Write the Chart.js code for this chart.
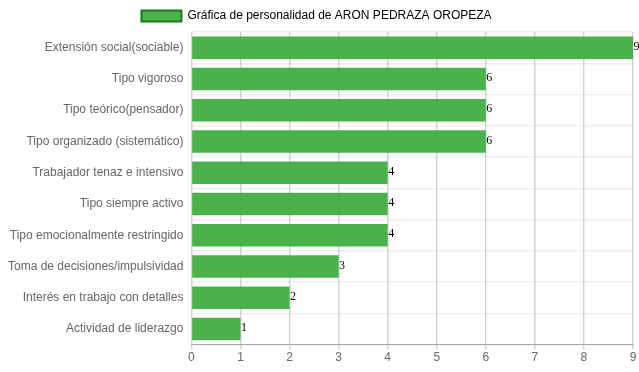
<!DOCTYPE html>
<html>
<head>
<meta charset="utf-8">
<script src="https://cdn.jsdelivr.net/npm/chart.js@4"></script>
<style>
  html, body { margin: 0; padding: 0; background: #fff; }
  #wrap { width: 639px; height: 372px; }
</style>
</head>
<body>
<div id="wrap"><canvas id="personalidad-chart"></canvas></div>
<script>
// datos
const categorias = [
    'Extensión social(sociable)',
    'Tipo vigoroso',
    'Tipo teórico(pensador)',
    'Tipo organizado (sistemático)',
    'Trabajador tenaz e intensivo',
    'Tipo siempre activo',
    'Tipo emocionalmente restringido',
    'Toma de decisiones/impulsividad',
    'Interés en trabajo con detalles',
    'Actividad de liderazgo'
];
const puntajes = [9, 6, 6, 6, 4, 4, 4, 3, 2, 1];
const ticksX = [0, 1, 2, 3, 4, 5, 6, 7, 8, 9];
const tituloSerie = 'Gráfica de personalidad de ARON PEDRAZA OROPEZA';

Chart.defaults.font.family = '"Liberation Sans", Arial, sans-serif';
Chart.defaults.font.size = 12;
Chart.defaults.color = '#666';

// numeros al final de cada barra
const valoresPlugin = {
    id: 'valores',
    afterDatasetsDraw(chart) {
        const ctx = chart.ctx;
        const meta = chart.getDatasetMeta(0);
        ctx.save();
        ctx.font = '12px "Liberation Serif", "Times New Roman", serif';
        ctx.fillStyle = '#000';
        ctx.textAlign = 'left';
        ctx.textBaseline = 'middle';
        meta.data.forEach((bar, i) => {
            ctx.fillText(puntajes[i], bar.x + 0.5, bar.y - 1);
        });
        ctx.restore();
    }
};

const ctx = document.getElementById('personalidad-chart');
new Chart(ctx, {
    type: 'bar',
    data: {
        labels: categorias,
        datasets: [{
            label: tituloSerie,
            data: puntajes,
            backgroundColor: 'rgba(60, 170, 60, 0.92)',
            borderColor: '#1b7a1b',
            borderWidth: 0
        }]
    },
    options: {
        indexAxis: 'y',
        responsive: true,
        maintainAspectRatio: false,
        animation: false,
        layout: { padding: { bottom: 6, right: 6 } },
        scales: {
            x: {
                min: 0,
                max: 9,
                afterBuildTicks: (axis) => { axis.ticks = ticksX.map(v => ({ value: v })); },
                grid: { color: 'rgba(0,0,0,0.17)', lineWidth: 1.5, tickLength: 5 },
                border: { color: 'rgba(0,0,0,0.3)' },
                ticks: { color: '#666', padding: 1 }
            },
            y: {
                grid: { color: 'rgba(0,0,0,0.06)', lineWidth: 1.5, offset: true, tickLength: 0 },
                border: { display: false },
                ticks: { color: '#666', padding: 8 }
            }
        },
        plugins: {
            legend: {
                labels: {
                    boxWidth: 40,
                    boxHeight: 11,
                    color: '#666',
                    generateLabels: (chart) => [{
                        text: tituloSerie,
                        fillStyle: '#4cb34c',
                        strokeStyle: '#1b7a1b',
                        lineWidth: 2,
                        datasetIndex: 0
                    }]
                }
            },
            tooltip: { enabled: false }
        }
    },
    plugins: [valoresPlugin]
});
</script>
</body>
</html>
